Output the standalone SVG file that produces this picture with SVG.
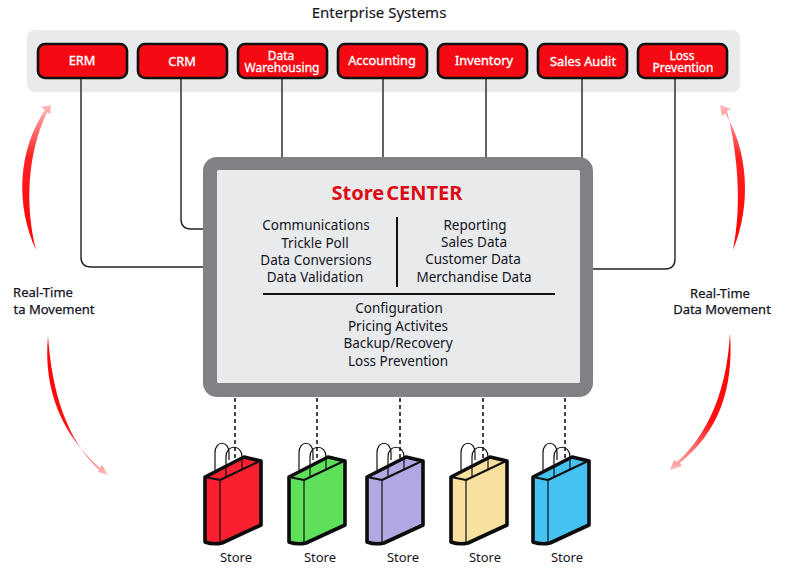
<svg xmlns="http://www.w3.org/2000/svg" xmlns:xlink="http://www.w3.org/1999/xlink" width="785" height="568" viewBox="0 0 785 568">
<style>
text{font-family:"Noto Sans","Open Sans","Liberation Sans",sans-serif;text-anchor:middle;fill:#14141e}
.n{fill:#f50a14;stroke:#111;stroke-width:2.6}
.w{fill:#fff;font-size:12.8px;stroke:#fff;stroke-width:.35}
.w2{fill:#fff;font-size:12px;stroke:#fff;stroke-width:.3}
.s{font-size:13.5px;fill:#14141e}
.l{font-size:13px;stroke:#14141e;stroke-width:.25}
.st{font-size:13px}
.t{font-size:15px;stroke:#14141e;stroke-width:.15}
.c{fill:none;stroke:#222;stroke-width:1.4}
.d{fill:none;stroke:#444;stroke-width:2;stroke-dasharray:4 3}
.b{stroke:#0c0c0c;stroke-width:3.6;stroke-linejoin:round}
.f{fill:none;stroke:#111;stroke-width:1.2}
.r{fill:none;stroke:#111;stroke-width:2;stroke-linejoin:round}
</style>
<defs>
<linearGradient id="up1" x1="0" y1="1" x2="0" y2="0"><stop offset="0" stop-color="#f00"/><stop offset=".65" stop-color="#f22"/><stop offset="1" stop-color="#fbb"/></linearGradient>
<linearGradient id="dn1" x1="0" y1="0" x2="0" y2="1"><stop offset="0" stop-color="#f00"/><stop offset=".65" stop-color="#f11"/><stop offset="1" stop-color="#fbb"/></linearGradient>
<g id="bag">
<path class="b" d="M0 0L39 -20L56 -16V48L17 66Q8 68 0 65Z" fill="currentColor"/>
<path class="f" d="M15 3V66"/>
<path class="r" d="M0 0L15 3L55 -16"/>
<path class="f" d="M10 -7V-24C10 -37 24 -37 24 -24V-17"/>
<path class="f" d="M21 1V-20C21 -33 37 -33 37 -20V-7"/>
</g>
</defs>
<rect x="27" y="30" width="713" height="62" rx="8" fill="#e9eaec"/>
<text x="379" y="18" class="t">Enterprise Systems</text>
<g id="connectors">
<path class="c" d="M81 78V257Q81 267 91 267H204"/>
<path class="c" d="M181 78V219Q181 229 191 229H204"/>
<path class="c" d="M282 78V158M383 78V158M486 78V158M582 78V158"/>
<path class="c" d="M675 78V259Q675 269 665 269H593"/>
<path class="d" d="M235 398V470M317 398V470M400 398V470M483 398V470M565 398V470"/>
</g>
<g id="erm"><rect class="n" x="38" y="44" width="89" height="34" rx="7"/><text class="w" x="82" y="65">ERM</text></g>
<g id="crm"><rect class="n" x="138" y="44" width="89" height="34" rx="7"/><text class="w" x="182" y="66">CRM</text></g>
<g id="dw"><rect class="n" x="238" y="44" width="89" height="34" rx="7"/><text class="w2" y="60"><tspan x="281">Data</tspan><tspan x="282" dy="12">Warehousing</tspan></text></g>
<g id="acc"><rect class="n" x="338" y="44" width="89" height="34" rx="7"/><text class="w" x="382" y="65">Accounting</text></g>
<g id="inv"><rect class="n" x="438" y="44" width="89" height="34" rx="7"/><text class="w" x="484" y="65">Inventory</text></g>
<g id="sa"><rect class="n" x="538" y="44" width="89" height="34" rx="7"/><text class="w" x="583" y="66">Sales Audit</text></g>
<g id="lp"><rect class="n" x="638" y="44" width="89" height="34" rx="7"/><text class="w2" y="60"><tspan x="682">Loss</tspan><tspan x="683" dy="12">Prevention</tspan></text></g>
<g id="storecenter">
<rect x="203" y="157" width="390" height="240" rx="14" fill="#808185"/>
<rect x="217" y="170" width="363" height="213" rx="1.5" fill="#e9eaec"/>
<text x="397" y="200" style="font-size:20px;font-weight:700;fill:#dc0a14">Store<tspan dx="2">CENTER</tspan></text>
<path d="M397 217V287" stroke="#111" stroke-width="2" fill="none"/>
<path d="M263 294H555" stroke="#111" stroke-width="2" fill="none"/>
<text class="s" x="316" y="230">Communications</text><text class="s" x="315" y="248">Trickle Poll</text><text class="s" x="316" y="265">Data Conversions</text><text class="s" x="315" y="282">Data Validation</text>
<text class="s" x="475" y="230">Reporting</text><text class="s" x="474" y="247">Sales Data</text><text class="s" x="473" y="264">Customer Data</text><text class="s" x="474" y="282">Merchandise Data</text>
<text class="s" x="399" y="313">Configuration</text><text class="s" x="398" y="331">Pricing Activites</text><text class="s" x="398" y="348">Backup/Recovery</text><text class="s" x="398" y="366">Loss Prevention</text>
</g>
<g id="arrows">
<path fill="url(#up1)" d="M36 250C15 205 18 150 45 110L41 107L51 105L50 114L47 112C27 155 25 205 36 250Z"/>
<path fill="url(#up1)" d="M733 250C752 205 748 150 725 113L722 116L720 105L731 109L727 111C738 155 742 205 733 250Z"/>
<path fill="url(#dn1)" d="M48 336C43 390 62 435 100 468L102 465L108 475L98 472L99 470C68 440 52 395 48 336Z"/>
<path fill="url(#dn1)" d="M730 333C734 390 718 432 680 463L682 466L670 470L674 460L677 462C708 435 727 390 730 333Z"/>
</g>
<g id="lbl-left"><text class="l" y="297"><tspan x="43">Real-Time</tspan><tspan x="54" dy="17">ta Movement</tspan></text></g>
<g id="lbl-right"><text class="l" y="298"><tspan x="720">Real-Time</tspan><tspan x="722" dy="16">Data Movement</tspan></text></g>
<g id="store1" color="#fb2030"><use xlink:href="#bag" href="#bag" x="205" y="477"/><text class="st" x="236" y="562">Store</text></g>
<g id="store2" color="#5fe05a"><use xlink:href="#bag" href="#bag" x="289" y="477"/><text class="st" x="320" y="562">Store</text></g>
<g id="store3" color="#b0a8e2"><use xlink:href="#bag" href="#bag" x="367" y="477"/><text class="st" x="403" y="562">Store</text></g>
<g id="store4" color="#f8e0a0"><use xlink:href="#bag" href="#bag" x="451" y="477"/><text class="st" x="485" y="562">Store</text></g>
<g id="store5" color="#45c2f2"><use xlink:href="#bag" href="#bag" x="533" y="477"/><text class="st" x="567" y="562">Store</text></g>
</svg>
